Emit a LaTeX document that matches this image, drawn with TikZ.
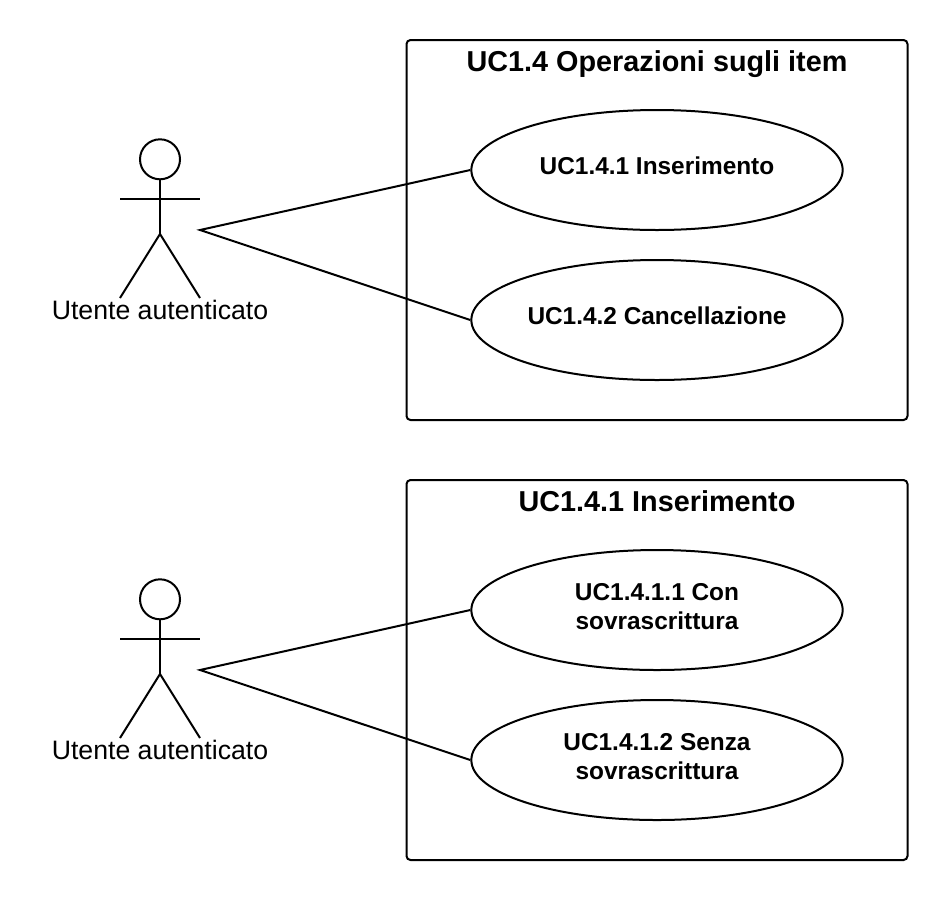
\documentclass[tikz,border=0pt]{standalone}
\usepackage{fontspec}
\setmainfont{Liberation Sans}
\usetikzlibrary{shapes.geometric, positioning}
\newcommand{\ucup}{\\[-15.75pt]}
\tikzset{
  usecase/.style={ellipse, draw, line width=1.5pt, minimum width=278.5pt, minimum height=90pt, inner sep=0pt, align=center, font=\fontsize{18.3}{21.75}\selectfont\bfseries},
  sysbox/.style={draw, line width=1.5pt, rounded corners=3pt, minimum width=375.75pt, minimum height=285pt, inner sep=0pt},
  boxtitle/.style={font=\fontsize{21.6}{25}\selectfont\bfseries, inner sep=0pt, anchor=base},
  actorlabel/.style={font=\fontsize{20}{24}\selectfont, inner sep=0pt},
  actorhead/.style={circle, draw, line width=1.5pt, minimum size=30pt, inner sep=0pt}
}
\begin{document}
\begin{tikzpicture}[x=0.75pt, y=-0.75pt, line width=1.5pt]
        \useasboundingbox (0,0) rectangle (948,900);
        % top diagram
        \node[sysbox]    (B1) at (657,230)   {};
        \node[boxtitle]  (T1) at (657,71)    {UC1.4 Operazioni sugli item};
        \node[usecase]   (U1) at (657,170)   {UC1.4.1 Inserimento\ucup};
        \node[usecase]   (U2) at (657,320)   {UC1.4.2 Cancellazione\ucup};
        \node[actorhead] (H1) at (160,159.3) {};
        \coordinate      (W1) at (160,234);
        \coordinate      (A1) at (120,198.5);
        \coordinate      (C1) at (200,198.5);
        \coordinate      (L1) at (120,298);
        \coordinate      (R1) at (200,298);
        \coordinate      (S1) at (200,230);
        \node[actorlabel] (E1) at (160,310)  {Utente autenticato};
        \draw (H1) -- (W1);
        \draw (A1) -- (C1);
        \draw (L1) -- (W1) -- (R1);
        \draw (U1.west) -- (S1) -- (U2.west);
        % bottom diagram
        \node[sysbox]    (B2) at (657,670)   {};
        \node[boxtitle]  (T2) at (657,511)   {UC1.4.1 Inserimento};
        \node[usecase]   (U3) at (657,610)   {UC1.4.1.1 Con\\sovrascrittura\ucup};
        \node[usecase]   (U4) at (657,760)   {UC1.4.1.2 Senza\\sovrascrittura\ucup};
        \node[actorhead] (H2) at (160,599.3) {};
        \coordinate      (W2) at (160,674);
        \coordinate      (A2) at (120,638.5);
        \coordinate      (C2) at (200,638.5);
        \coordinate      (L2) at (120,738);
        \coordinate      (R2) at (200,738);
        \coordinate      (S2) at (200,670);
        \node[actorlabel] (E2) at (160,750)  {Utente autenticato};
        \draw (H2) -- (W2);
        \draw (A2) -- (C2);
        \draw (L2) -- (W2) -- (R2);
        \draw (U3.west) -- (S2) -- (U4.west);
\end{tikzpicture}
\end{document}
